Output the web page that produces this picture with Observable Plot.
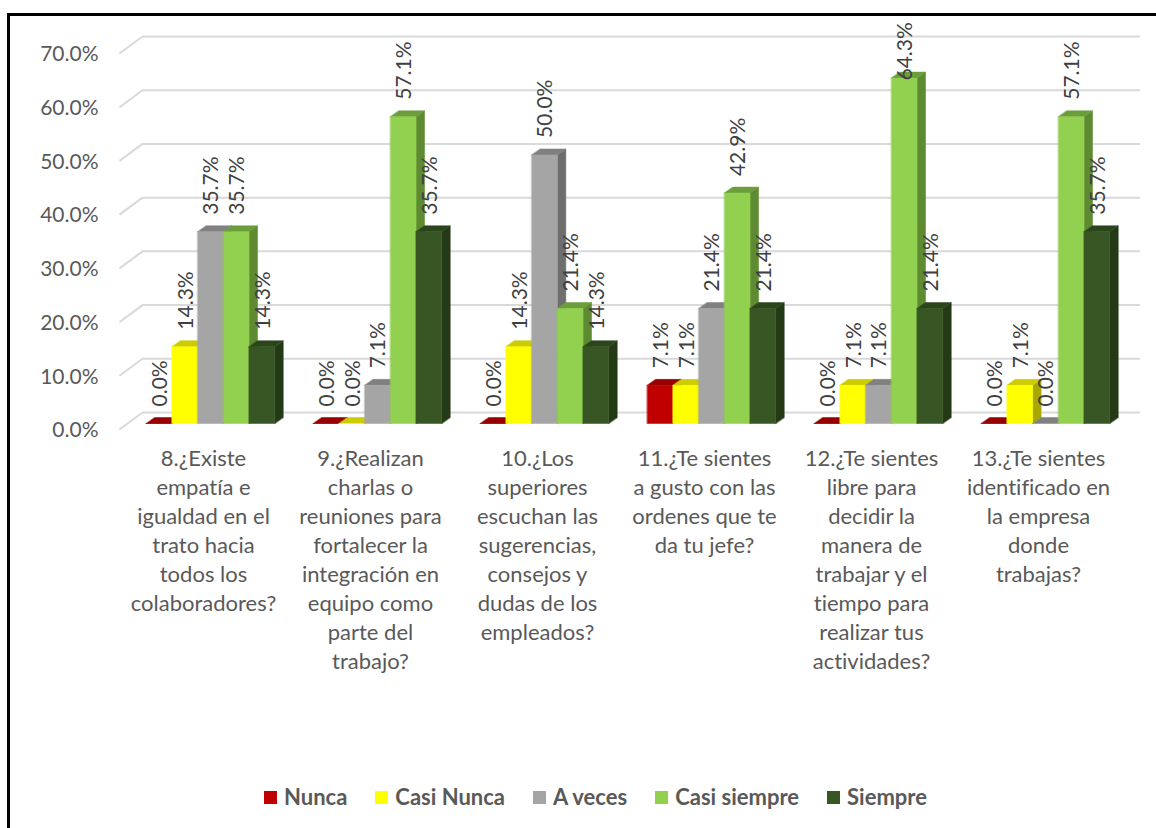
<!DOCTYPE html>
<html>
<head>
<meta charset="utf-8">
<script src="https://cdn.jsdelivr.net/npm/d3@7"></script>
<script src="https://cdn.jsdelivr.net/npm/@observablehq/plot@0.6"></script>
<style>
  html, body { margin: 0; padding: 0; background: #fff; }
  body { width: 1156px; height: 828px; overflow: hidden; position: relative; font-family: Lato, "Open Sans", sans-serif; font-variant-ligatures: none; }
  #frame { position: absolute; left: 7px; top: 13px; width: 1170px; height: 840px; border: 3px solid #000; box-sizing: border-box; }
  #chart { position: absolute; left: 0; top: 0; }
  #chart svg text { font-variant-ligatures: none; }
  #legend { position: absolute; top: 784px; left: 264px; height: 26px; display: flex; align-items: center; font-weight: bold; font-size: 22px; line-height: 26px; color: #595959; white-space: nowrap; }
  .item { display: flex; align-items: center; margin-right: 28px; }
  .sw { width: 13px; height: 13px; margin-right: 7px; }
</style>
</head>
<body>
<div id="frame"></div>
<div id="chart"></div>
<div id="legend"></div>
<script>
// ---------------- data ----------------
const categories = [
  "8.¿Existe\nempatía e\nigualdad en el\ntrato hacia\ntodos los\ncolaboradores?",
  "9.¿Realizan\ncharlas o\nreuniones para\nfortalecer la\nintegración en\nequipo como\nparte del\ntrabajo?",
  "10.¿Los\nsuperiores\nescuchan las\nsugerencias,\nconsejos y\ndudas de los\nempleados?",
  "11.¿Te sientes\na gusto con las\nordenes que te\nda tu jefe?",
  "12.¿Te sientes\nlibre para\ndecidir la\nmanera de\ntrabajar y el\ntiempo para\nrealizar tus\nactividades?",
  "13.¿Te sientes\nidentificado en\nla empresa\ndonde\ntrabajas?"
];
const seriesNames = ["Nunca", "Casi Nunca", "A veces", "Casi siempre", "Siempre"];
const nunca       = [0.0, 0.0, 0.0, 7.1, 0.0, 0.0];
const casiNunca   = [14.3, 0.0, 14.3, 7.1, 7.1, 7.1];
const aVeces      = [35.7, 7.1, 50.0, 21.4, 7.1, 0.0];
const casiSiempre = [35.7, 57.1, 21.4, 42.9, 64.3, 57.1];
const siempre     = [14.3, 35.7, 14.3, 21.4, 21.4, 35.7];
const yTicks = [0, 10, 20, 30, 40, 50, 60, 70];

const frontColors = ["#C00000", "#FFFF00", "#A5A5A5", "#92D050", "#375623"];
const topColors   = ["#960000", "#CCCC00", "#808080", "#6B9E3B", "#2C461C"];
const sideColors  = ["#7A0000", "#A8A800", "#6E6E6E", "#5E8A31", "#243A16"];

// ---------------- layout ----------------
const W = 1156, H = 740;
const marginLeft = 142, marginRight = 16, marginTop = 47;
const floorY = 423;                   // pixel of value 0 on bar front
const marginBottom = H - floorY;
const step = 167;                     // px per category
const firstCenter = 210;              // px of first category centre
const xd0 = -(firstCenter - marginLeft) / step;
const xd1 = xd0 + (W - marginLeft - marginRight) / step;
const pxPerPct = (floorY - marginTop) / 70;
const barW = 25.7 / step;
const depX = 8.5 / step;
const depY = 6 / pxPerPct;
const labelGap = 17 / pxPerPct;       // gap between bar top and value label
const labelMax = (floorY - 80) / pxPerPct; // labels kept inside the plot area

const allSeries = [nunca, casiNunca, aVeces, casiSiempre, siempre];

// build bars + face polygons
const bars = [];
const polys = [];
let pid = 0;
categories.forEach((c, i) => {
  allSeries.forEach((vals, j) => {
    const v = vals[i];
    const x1 = i + (j - 2.5) * barW;
    const x2 = x1 + barW;
    bars.push({i, j, v, xc: (x1 + x2) / 2, ly: Math.min(v + labelGap, labelMax)});
    const side = [[x2, 0], [x2, v], [x2 + depX, v + depY], [x2 + depX, depY]];
    const top = [[x1, v], [x2, v], [x2 + depX, v + depY], [x1 + depX, v + depY]];
    const front = [[x1, 0], [x2, 0], [x2, v], [x1, v]];
    [[side, sideColors[j]], [top, topColors[j]], [front, frontColors[j]]].forEach(([pts, col]) => {
      const id = pid++;
      pts.forEach(([x, y]) => polys.push({id, x, y, color: col}));
    });
  });
});

const chart = Plot.plot({
  width: W,
  height: H,
  marginLeft, marginRight, marginTop, marginBottom,
  style: {fontFamily: "Lato, 'Open Sans', sans-serif", fontSize: "21px", color: "#595959", background: "transparent", overflow: "visible"},
  x: {type: "linear", domain: [xd0, xd1], axis: null},
  y: {type: "linear", domain: [0, 70], axis: null},
  color: {type: "identity"},
  marks: [
    // back grid lines
    Plot.ruleY(yTicks, {y: d => d, dy: -11, stroke: "#D9D9D9", strokeWidth: 2}),
    // slanted side-wall lines
    Plot.link(yTicks, {
      x1: xd0 - 23 / step, y1: d => d - 6 / pxPerPct,
      x2: xd0, y2: d => d + 11 / pxPerPct,
      stroke: "#D9D9D9", strokeWidth: 2
    }),
    // y axis labels
    Plot.axisY(yTicks, {tickSize: 0, tickPadding: 44, dy: 7, fontSize: 21, tickFormat: d => d.toFixed(1) + "%", label: null, fill: "#595959"}),
    // 3D bars
    Plot.line(polys, {x: "x", y: "y", z: "id", fill: "color", stroke: "color", strokeWidth: 0.5, curve: "linear-closed"}),
    // value labels
    Plot.text(bars, {x: "xc", y: "ly", text: d => d.v.toFixed(1) + "%", rotate: -90, textAnchor: "start", dx: 1, fontSize: 21, fill: "#404040"}),
    // category labels
    Plot.text(categories, {x: (d, i) => i, y: 0, text: d => d, lineAnchor: "top", dy: 22, dx: -7, lineHeight: 29 / 22, fontSize: 22, fill: "#595959"})
  ]
});
document.getElementById("chart").appendChild(chart);

// legend
const legend = document.getElementById("legend");
seriesNames.forEach((name, j) => {
  const it = document.createElement("div");
  it.className = "item";
  const sw = document.createElement("span");
  sw.className = "sw";
  sw.style.background = frontColors[j];
  const tx = document.createElement("span");
  tx.textContent = name;
  it.appendChild(sw);
  it.appendChild(tx);
  legend.appendChild(it);
});
</script>
</body>
</html>
